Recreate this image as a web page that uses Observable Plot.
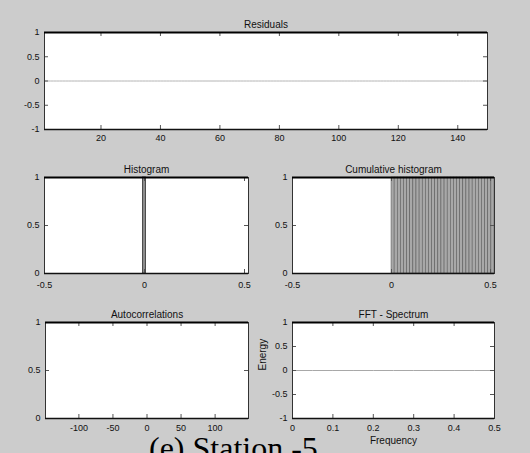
<!DOCTYPE html>
<html>
<head>
<meta charset="utf-8">
<script src="https://cdn.jsdelivr.net/npm/d3@7"></script>
<script src="https://cdn.jsdelivr.net/npm/@observablehq/plot@0.6"></script>
<style>
  html, body { margin: 0; padding: 0; background: #cccccc; }
  #fig { position: relative; width: 530px; height: 453px; overflow: hidden; background: #cccccc; }
  #fig svg { position: absolute; overflow: visible; }
  #caption {
    position: absolute; left: 149px; top: 436px;
    font-family: "Liberation Serif", "Times New Roman", serif;
    font-size: 32px; line-height: 0.75; color: #000; white-space: nowrap;
  }
</style>
</head>
<body>
<div id="fig"><div id="caption">(e) Station -5</div></div>
<script>
// Residuals of the fitted model, one per observation (all zero for this station)
const residuals = [
  0,0,0,0,0,0,0,0,0,0,0,0,0,0,0,0,0,0,0,0,0,0,0,0,0,0,0,0,0,0,
  0,0,0,0,0,0,0,0,0,0,0,0,0,0,0,0,0,0,0,0,0,0,0,0,0,0,0,0,0,0,
  0,0,0,0,0,0,0,0,0,0,0,0,0,0,0,0,0,0,0,0,0,0,0,0,0,0,0,0,0,0,
  0,0,0,0,0,0,0,0,0,0,0,0,0,0,0,0,0,0,0,0,0,0,0,0,0,0,0,0,0,0,
  0,0,0,0,0,0,0,0,0,0,0,0,0,0,0,0,0,0,0,0,0,0,0,0,0,0,0,0,0,0
];

// Normalised histogram of the residuals: a single bin at zero
const histCenters = [0];
const histCounts = [1];

// Cumulative histogram: every bin from zero upwards holds the full mass
const cumCounts = [
  1,1,1,1,1,1,1,1,1,1,1,1,1,1,1,1,1,1,1,1,1,1,1,1,1,1,1,1,1,1,1,1,1
];

// Autocorrelation lags (undefined for a constant series, so nothing is drawn)
const acfLags = [];
const acfValues = [];

// FFT spectrum of the residuals
const fftFreq = [0, 0.05, 0.1, 0.15, 0.2, 0.25, 0.3, 0.35, 0.4, 0.45, 0.5];
const fftEnergy = [0, 0, 0, 0, 0, 0, 0, 0, 0, 0, 0];

// Tick labels
const resX = [20, 40, 60, 80, 100, 120, 140];
const resY = [-1, -0.5, 0, 0.5, 1];
const histX = [-0.5, 0, 0.5];
const histY = [0, 0.5, 1];
const acfX = [-100, -50, 0, 50, 100];
const acfY = [0, 0.5, 1];
const fftX = [0, 0.1, 0.2, 0.3, 0.4, 0.5];
const fftY = [-1, -0.5, 0, 0.5, 1];

const FONT = "'Liberation Sans', Arial, Helvetica, sans-serif";
const fig = document.getElementById("fig");
const fmt = d => String(d);

// One MATLAB-style axes box: frame, inward ticks on all four sides, labels outside
function panel({x0, y0, w, h, xDomain, yDomain, xTicks, yTicks, title, xPad = 5, marks = []}) {
  const ml = 45, mr = 10, mt = 22, mb = 32;
  const tick = 4;
  const svg = Plot.plot({
    width: w + ml + mr,
    height: h + mt + mb,
    marginLeft: ml, marginRight: mr, marginTop: mt, marginBottom: mb,
    x: {domain: xDomain},
    y: {domain: yDomain},
    style: {background: "transparent", fontFamily: FONT, fontSize: "9px", color: "#111", overflow: "visible"},
    marks: [
      Plot.frame({fill: "#ffffff"}),
      ...marks,
      Plot.ruleX(xTicks, {x: d => d, insetBottom: h - tick, stroke: "#555"}),
      Plot.ruleX(xTicks, {x: d => d, insetTop: h - tick, stroke: "#555"}),
      Plot.ruleY(yTicks, {y: d => d, insetRight: w - tick, stroke: "#555"}),
      Plot.ruleY(yTicks, {y: d => d, insetLeft: w - tick, stroke: "#555"}),
      Plot.frame({stroke: "#333", strokeWidth: 1}),
      Plot.ruleY([yDomain[1]], {stroke: "#000", strokeWidth: 2}),
      Plot.ruleY([yDomain[0]], {stroke: "#111", strokeWidth: 1.3}),
      Plot.axisX(xTicks, {tickSize: 0, tickPadding: xPad, tickFormat: fmt, label: null, fill: "#111", fontSize: 9}),
      Plot.axisY(yTicks, {tickSize: 0, tickPadding: 5, tickFormat: fmt, label: null, fill: "#111", fontSize: 9}),
      Plot.text([title], {text: d => d, frameAnchor: "top", dy: -12, fontSize: 10, fill: "#111"})
    ]
  });
  svg.style.left = (x0 - ml) + "px";
  svg.style.top = (y0 - mt) + "px";
  fig.appendChild(svg);
  return svg;
}

const histBin = 0.016;
const cumBin = 0.52 / cumCounts.length;
const cumStarts = cumCounts.map((_, i) => i * cumBin);

panel({
  x0: 44, y0: 32, w: 443, h: 97,
  xDomain: [1, 150], yDomain: [-1, 1], xTicks: resX, yTicks: resY, title: "Residuals",
  marks: [
    Plot.lineY(residuals, {x: (d, i) => i + 1, y: d => d, stroke: "#b4b4b4", strokeWidth: 1})
  ]
});

panel({
  x0: 44, y0: 177, w: 204, h: 96,
  xDomain: [-0.5, 0.52], yDomain: [0, 1], xTicks: histX, yTicks: histY, title: "Histogram", xPad: 8,
  marks: [
    Plot.rectY(histCounts, {
      x1: (d, i) => histCenters[i] - histBin / 2,
      x2: (d, i) => histCenters[i] + histBin / 2,
      y: d => d, fill: "#8c8c8c", stroke: "#333", strokeWidth: 0.8
    })
  ]
});

panel({
  x0: 292, y0: 177, w: 202, h: 96,
  xDomain: [-0.5, 0.52], yDomain: [0, 1], xTicks: histX, yTicks: histY, title: "Cumulative histogram", xPad: 8,
  marks: [
    Plot.rectY(cumCounts, {
      x1: (d, i) => cumStarts[i],
      x2: (d, i) => cumStarts[i] + cumBin,
      y: d => d, fill: "#a8a8a8", stroke: "#505050", strokeWidth: 0.5
    })
  ]
});

panel({
  x0: 45, y0: 322, w: 203, h: 96,
  xDomain: [-149, 149], yDomain: [0, 1], xTicks: acfX, yTicks: acfY, title: "Autocorrelations", xPad: 6,
  marks: [
    Plot.lineY(acfValues, {x: (d, i) => acfLags[i], y: d => d, stroke: "#555"})
  ]
});

panel({
  x0: 292, y0: 322, w: 202, h: 96,
  xDomain: [0, 0.5], yDomain: [-1, 1], xTicks: fftX, yTicks: fftY, title: "FFT - Spectrum", xPad: 6,
  marks: [
    Plot.lineY(fftEnergy, {x: (d, i) => fftFreq[i], y: d => d, stroke: "#a8a8a8", strokeWidth: 1}),
    Plot.text(["Frequency"], {text: d => d, frameAnchor: "bottom", dy: 25, fontSize: 10, fill: "#111"}),
    Plot.text(["Energy"], {text: d => d, frameAnchor: "left", dx: -30, rotate: -90, fontSize: 10, fill: "#111"})
  ]
});
</script>
</body>
</html>
